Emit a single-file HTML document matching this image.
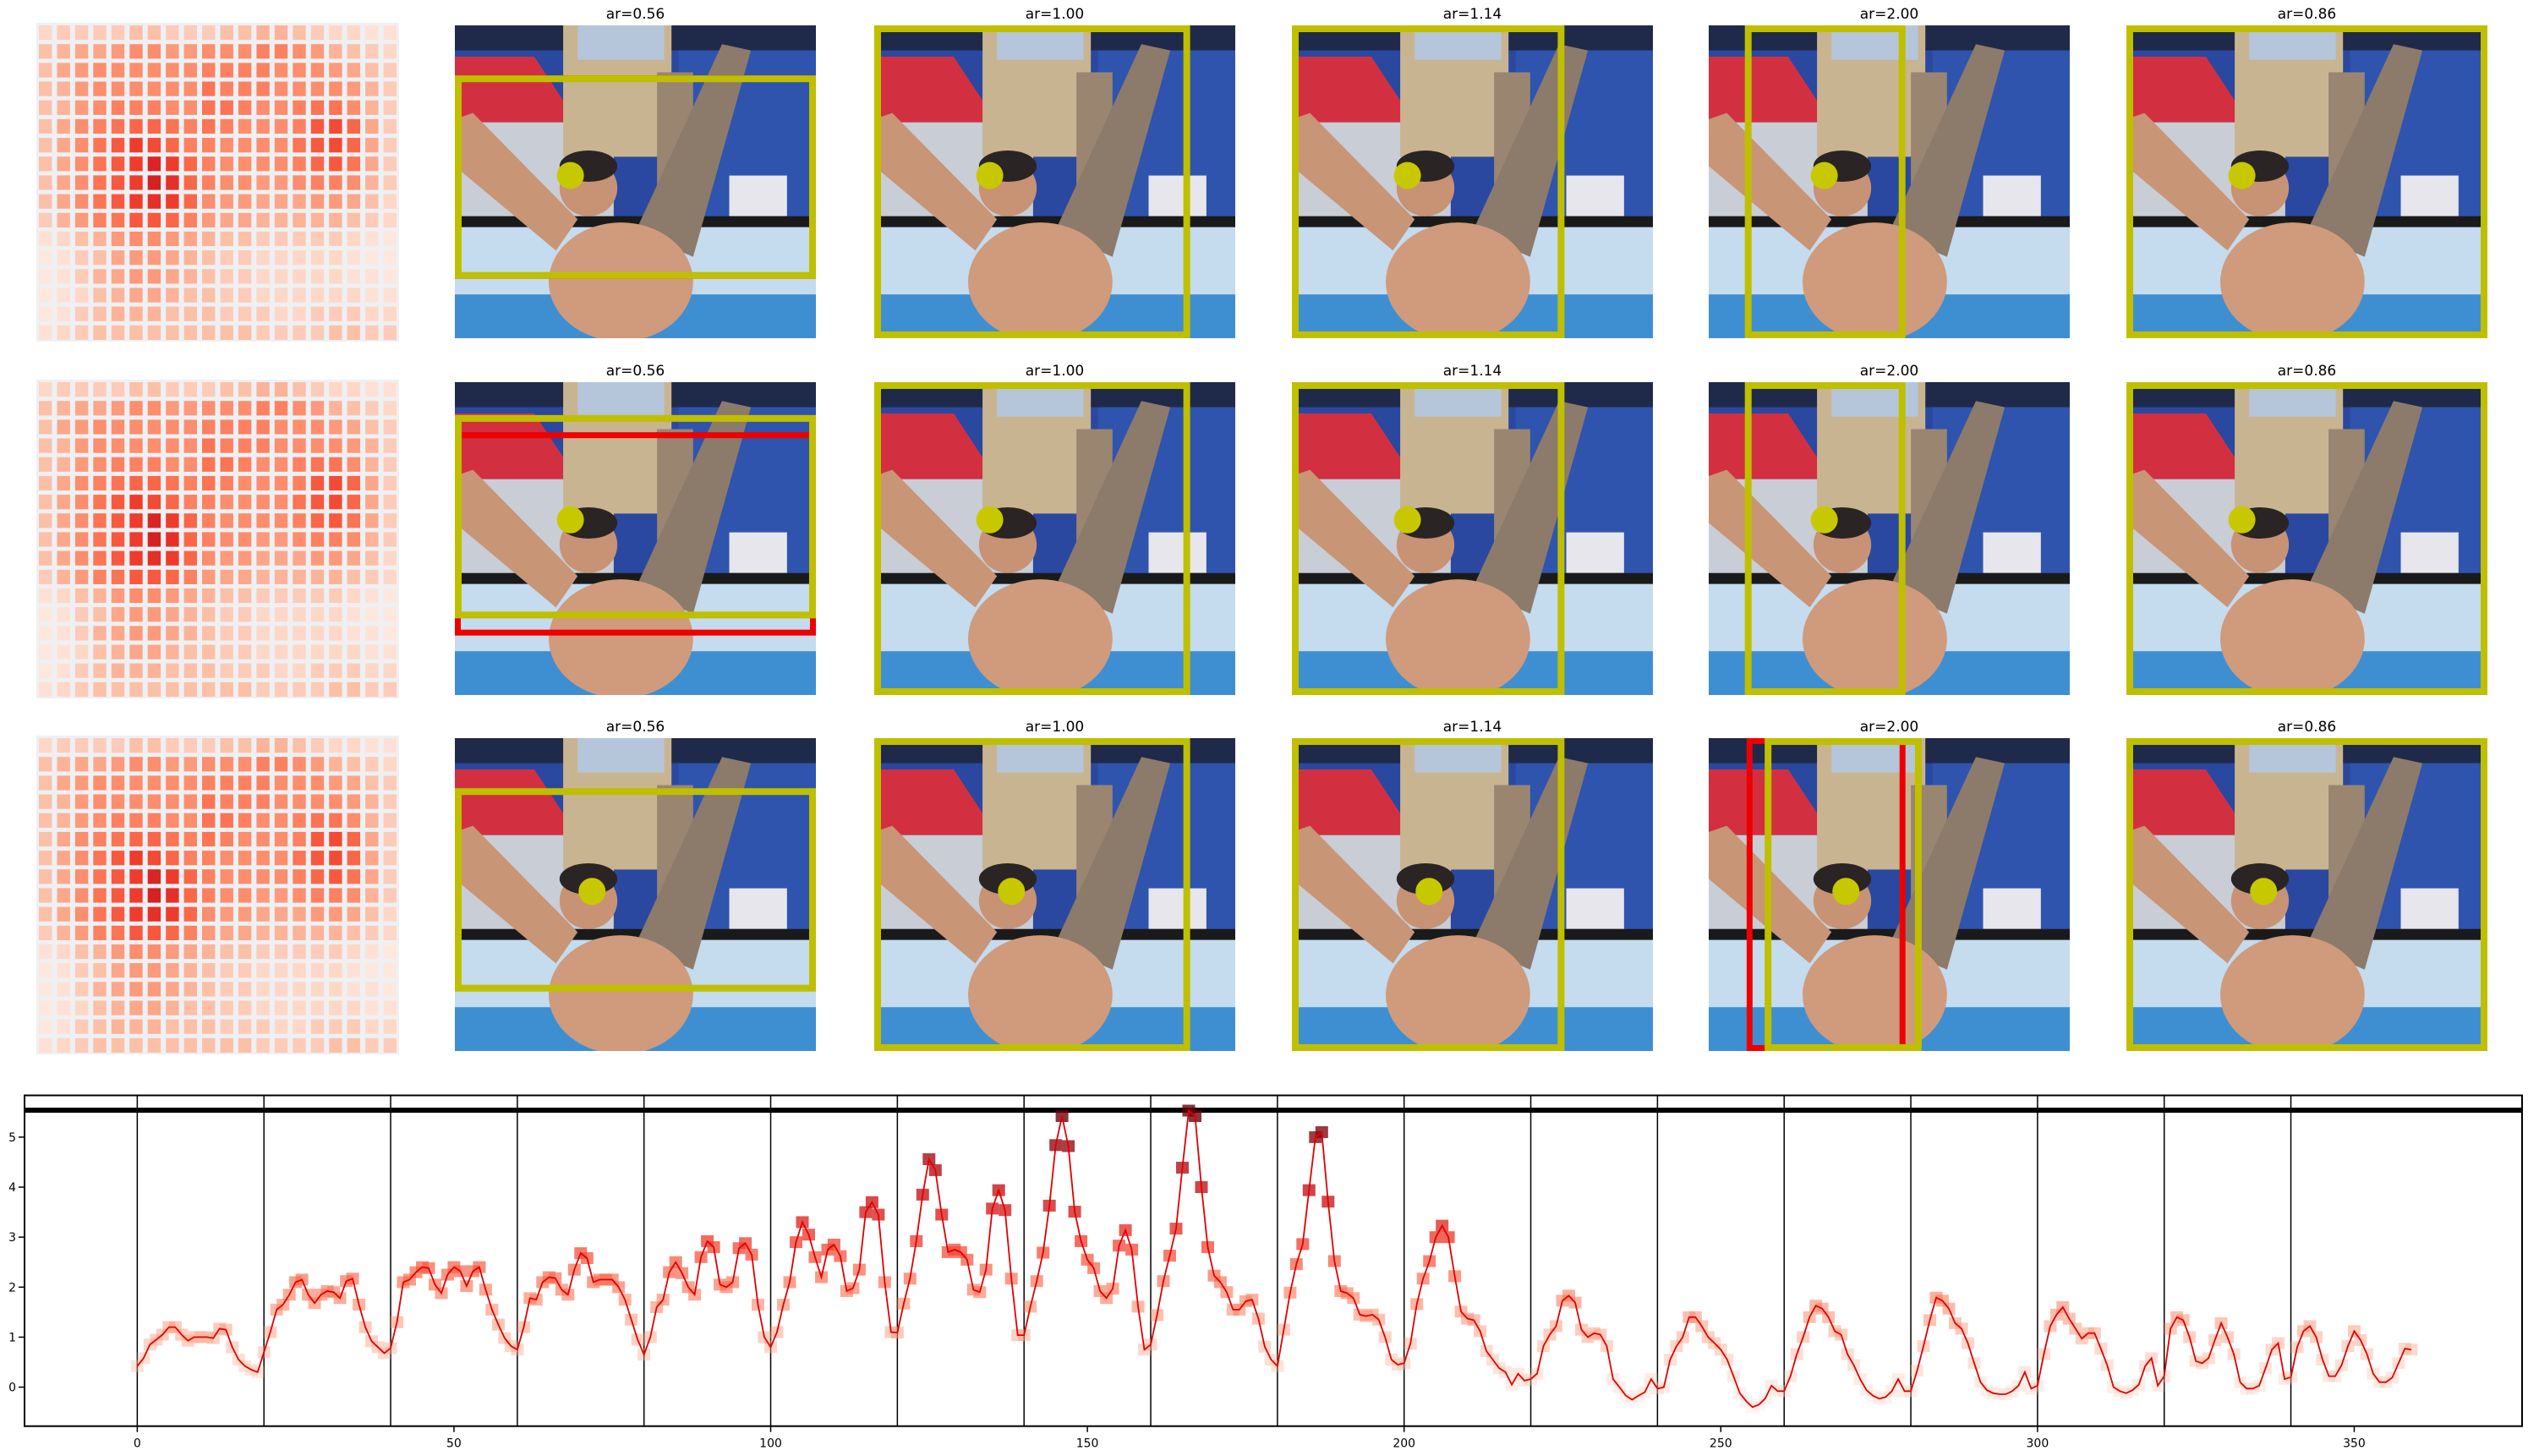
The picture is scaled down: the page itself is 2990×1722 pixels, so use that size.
<!DOCTYPE html>
<html><head><meta charset="utf-8"><title>Attention maps and aspect ratio boxes</title>
<style>
html,body{margin:0;padding:0;background:#fff;}
svg text{font-family:"DejaVu Sans","Liberation Sans",sans-serif;}
</style></head>
<body>
<svg id="fig" xmlns="http://www.w3.org/2000/svg" width="2990" height="1717" viewBox="0 0 2990 1717">
<defs>
<symbol id="scene" viewBox="0 0 100 100" preserveAspectRatio="none">
  <rect x="0" y="0" width="100" height="100" fill="#2a48a0"/>
  <rect x="0" y="0" width="100" height="8" fill="#1f2a4a"/>
  <rect x="62" y="8" width="38" height="56" fill="#2f54ad"/>
  <polygon points="0,10 22,10 30,24 42,28 42,33 0,33" fill="#d23040"/>
  <rect x="0" y="31" width="44" height="32" fill="#c8cdd6"/>
  <rect x="30" y="0" width="30" height="42" fill="#c9b491"/>
  <rect x="34" y="0" width="24" height="11" fill="#b5c6da"/>
  <rect x="56" y="15" width="10" height="45" fill="#9a8571"/>
  <rect x="76" y="48" width="16" height="13" fill="#e6e6ec"/>
  <rect x="0" y="61" width="100" height="3.5" fill="#1a1a1a"/>
  <rect x="0" y="64.5" width="100" height="23" fill="#c5dbee"/>
  <rect x="0" y="86" width="100" height="14" fill="#3e8fd2"/>
  <polygon points="0,30 5,28 34,62 28,72 0,45" fill="#c89577"/>
  <polygon points="50,66 74,6 82,8 66,74" fill="#8c7a6b"/>
  <ellipse cx="46" cy="82" rx="20" ry="19" fill="#cf9b7c"/>
  <ellipse cx="37" cy="52" rx="8" ry="9" fill="#c89275"/>
  <ellipse cx="37" cy="45" rx="8" ry="5" fill="#2a2424"/>
</symbol>
</defs>
<g id="topgrid"></g>
<g id="chart"></g>
</svg>
<script>
// ---------- heatmap data (intensity 0..1, 17 rows x 20 cols) ----------
const heatRows = [
[.2,.25,.25,.25,.25,.3,.3,.25,.25,.25,.3,.3,.35,.35,.3,.25,.2,.2,.15,.15],
[.3,.35,.4,.4,.45,.5,.5,.45,.45,.5,.5,.5,.55,.55,.5,.45,.35,.3,.25,.2],
[.3,.4,.45,.5,.5,.5,.5,.5,.5,.55,.55,.55,.55,.5,.5,.5,.45,.4,.3,.25],
[.3,.35,.45,.5,.5,.5,.5,.5,.5,.6,.55,.55,.55,.5,.5,.5,.5,.45,.35,.25],
[.3,.35,.45,.5,.55,.55,.55,.5,.5,.6,.6,.55,.5,.5,.55,.6,.6,.5,.35,.25],
[.3,.4,.5,.55,.6,.65,.65,.6,.55,.6,.55,.5,.5,.5,.55,.7,.75,.65,.4,.25],
[.3,.4,.5,.6,.7,.8,.75,.65,.55,.55,.5,.5,.5,.5,.6,.7,.75,.65,.4,.25],
[.3,.4,.5,.6,.7,.8,.9,.8,.65,.55,.5,.5,.5,.5,.55,.65,.7,.6,.4,.25],
[.3,.4,.5,.6,.7,.8,.92,.85,.65,.55,.5,.5,.45,.45,.5,.55,.55,.5,.35,.25],
[.3,.4,.5,.6,.7,.8,.85,.8,.65,.5,.45,.45,.4,.4,.4,.45,.45,.4,.3,.2],
[.25,.35,.45,.55,.6,.7,.7,.65,.55,.45,.4,.4,.35,.35,.35,.35,.35,.3,.25,.2],
[.15,.2,.3,.35,.45,.5,.5,.45,.4,.35,.3,.3,.25,.25,.25,.25,.25,.2,.15,.1],
[.1,.15,.25,.3,.4,.45,.45,.4,.35,.3,.25,.25,.2,.2,.2,.2,.2,.15,.1,.1],
[.1,.15,.25,.35,.4,.45,.45,.4,.35,.3,.25,.25,.2,.2,.2,.2,.2,.15,.15,.1],
[.1,.15,.2,.3,.35,.4,.4,.35,.3,.3,.25,.25,.2,.2,.2,.2,.2,.2,.15,.15],
[.1,.15,.25,.3,.35,.35,.35,.3,.3,.3,.25,.25,.25,.2,.2,.25,.25,.25,.2,.2],
[.15,.2,.25,.3,.3,.3,.3,.3,.3,.3,.3,.3,.25,.25,.25,.25,.3,.3,.25,.25]
];
const arLabels = ["ar=0.56","ar=1.00","ar=1.14","ar=2.00","ar=0.86"];

// ---------- line chart data ----------
const values = [
0.42,0.58,0.85,0.95,1.05,1.2,1.2,1.05,0.93,1.0,1.0,1.0,0.98,1.17,1.15,0.8,0.55,0.42,0.35,0.3,
0.7,1.1,1.55,1.65,1.85,2.1,2.15,1.85,1.68,1.85,1.92,1.9,1.78,2.12,2.17,1.65,1.2,0.92,0.8,0.68,
0.78,1.3,2.1,2.15,2.3,2.4,2.38,2.05,1.88,2.25,2.4,2.32,2.02,2.32,2.4,1.95,1.55,1.25,0.98,0.82,
0.75,1.2,1.78,1.75,2.1,2.2,2.18,1.95,1.85,2.35,2.68,2.58,2.1,2.15,2.15,2.15,2.0,1.75,1.35,0.95,
0.65,1.0,1.6,1.75,2.3,2.5,2.28,2.0,1.85,2.6,2.92,2.8,2.05,2.0,2.1,2.78,2.88,2.65,1.65,1.0,
0.8,1.1,1.65,2.1,2.9,3.3,3.05,2.6,2.2,2.75,2.85,2.62,1.92,1.98,2.35,3.5,3.7,3.45,2.1,1.1,
1.09,1.67,2.17,2.92,3.85,4.56,4.34,3.45,2.7,2.75,2.7,2.55,1.95,1.9,2.35,3.57,3.94,3.54,2.17,1.04,
1.04,1.61,2.12,2.69,3.63,4.84,5.42,4.82,3.51,2.92,2.55,2.38,1.92,1.78,1.97,2.83,3.14,2.75,1.61,0.75,
0.85,1.44,2.12,2.63,3.17,4.39,5.53,5.42,4.0,2.8,2.23,2.1,1.9,1.55,1.55,1.72,1.75,1.37,0.81,0.55,
0.42,1.15,1.89,2.46,2.86,3.94,5.0,5.1,3.71,2.52,1.92,1.88,1.78,1.45,1.42,1.45,1.35,1.0,0.55,0.45,
0.48,0.87,1.66,2.17,2.52,3.0,3.23,3.0,2.22,1.51,1.37,1.34,1.12,0.72,0.55,0.38,0.3,0.05,0.27,0.13,
0.16,0.27,0.82,1.05,1.22,1.73,1.83,1.69,1.15,1.0,1.08,1.05,0.82,0.16,0.0,-0.17,-0.25,-0.17,-0.1,0.16,
-0.03,0.0,0.55,0.82,1.0,1.4,1.4,1.22,1.0,0.88,0.75,0.55,0.22,-0.12,-0.28,-0.4,-0.35,-0.23,0.03,-0.08,
-0.08,0.22,0.66,1.0,1.4,1.63,1.57,1.4,1.12,1.05,0.66,0.44,0.16,-0.06,-0.17,-0.23,-0.2,-0.08,0.16,-0.08,
-0.08,0.33,0.82,1.34,1.79,1.73,1.57,1.28,1.17,0.88,0.48,0.1,-0.06,-0.12,-0.14,-0.14,-0.08,0.03,0.3,-0.03,
0.03,0.66,1.22,1.45,1.6,1.37,1.17,0.97,1.08,1.08,0.77,0.44,0.0,-0.08,-0.12,-0.06,0.05,0.42,0.58,0.03,
0.22,1.17,1.4,1.34,1.0,0.52,0.48,0.58,0.94,1.28,1.0,0.66,0.1,-0.03,-0.03,0.03,0.38,0.75,0.88,0.16,
0.2,0.8,1.12,1.22,1.0,0.55,0.22,0.22,0.44,0.82,1.12,0.94,0.66,0.27,0.1,0.1,0.19,0.48,0.77,0.75
];
const xTicks = [0,50,100,150,200,250,300,350];
const yTicks = [0,1,2,3,4,5];
const segmentLines = [0,20,40,60,80,100,120,140,160,180,200,220,240,260,280,300,320,340];
const thresholdValue = 5.54;

const NS = "http://www.w3.org/2000/svg";
function mk(tag, attrs, parent){const e=document.createElementNS(NS,tag);for(const k in attrs)e.setAttribute(k,attrs[k]);parent.appendChild(e);return e;}

const redsStops=[[0,[255,245,240]],[0.125,[254,224,210]],[0.25,[252,187,161]],[0.375,[252,146,114]],[0.5,[251,106,74]],[0.625,[239,59,44]],[0.75,[203,24,29]],[0.875,[165,15,21]],[1,[103,0,13]]];
function reds(t){t=Math.max(0,Math.min(1,t));for(let i=1;i<redsStops.length;i++){if(t<=redsStops[i][0]){const a=redsStops[i-1],b=redsStops[i];const f=(t-a[0])/(b[0]-a[0]);const c=a[1].map((v,j)=>Math.round(v+(b[1][j]-v)*f));return `rgb(${c[0]},${c[1]},${c[2]})`;}}return "rgb(103,0,13)";}

// ---------- top grid ----------
const topGroup=document.getElementById('topgrid');
const rowY=[30,452,873];
const panelX=[538,1034,1528,2021,2515];
const PW=427, PH=370;
const yel="#bfbf00", red="#ee0000";
const boxes=[
 [[[red,0,0.16,1,0.81],[yel,0,0.16,1,0.81]],[[yel,0,0,0.875,1]],[[yel,0,0,0.755,1]],[[yel,0.1,0,0.545,1]],[[yel,0,0,1,1]]],
 [[[red,0,0.16,1,0.81],[yel,0,0.105,1,0.755]],[[yel,0,0,0.875,1]],[[yel,0,0,0.755,1]],[[yel,0.1,0,0.545,1]],[[yel,0,0,1,1]]],
 [[[yel,0,0.16,1,0.81]],[[yel,0,0,0.875,1]],[[yel,0,0,0.755,1]],[[red,0.105,0,0.545,1],[yel,0.155,0,0.59,1]],[[yel,0,0,1,1]]]
];
const dots=[[0.32,0.48],[0.32,0.44],[0.38,0.49]];
rowY.forEach((ry,r)=>{
  const hg=mk('g',{},topGroup);
  
  
  const hx=43, hw=429, hy=ry-3, hh=377;
  mk('rect',{x:hx,y:hy,width:hw,height:hh,fill:'#eef0f3'},hg);
  const cw=hw/20, chh=hh/17;
  heatRows.forEach((row,i)=>row.forEach((v,j)=>{
    const c=mk('rect',{x:(hx+j*cw+3).toFixed(1),y:(hy+i*chh+3).toFixed(1),width:(cw-6).toFixed(1),height:(chh-5).toFixed(1),fill:reds(v*0.78)},hg);
    
    
  }));
  panelX.forEach((px,p)=>{
    const g=mk('g',{},topGroup);
    
    
    mk('use',{href:'#scene',x:px,y:ry,width:PW,height:PH},g);
    const t=mk('text',{x:px+PW/2,y:ry-8,'text-anchor':'middle','font-size':17,fill:'#000'},g);
    t.textContent=arLabels[p];
    
    
    const d=mk('circle',{cx:px+dots[r][0]*PW,cy:ry+dots[r][1]*PH,r:16,fill:'#c8c800'},g);
    
    
    boxes[r][p].forEach(b=>{
      const sw=b[0]===red?7:8;
      const bx=mk('rect',{x:px+b[1]*PW+sw/2,y:ry+b[2]*PH+sw/2,width:(b[3]-b[1])*PW-sw,height:(b[4]-b[2])*PH-sw,fill:'none',stroke:b[0],'stroke-width':sw},g);
      
      
    });
  });
});

// ---------- chart ----------
const chartG=document.getElementById('chart');
const L=29,R=2983,T=1295.5,B=1686.7;
const xmin=-17.8,xmax=376.5,ymin=-0.78,ymax=5.835;
const xs=v=>L+(v-xmin)*(R-L)/(xmax-xmin);
const ys=v=>B-(v-ymin)*(B-T)/(ymax-ymin);
segmentLines.forEach(s=>{
  const l=mk('line',{x1:xs(s),x2:xs(s),y1:T,y2:B,stroke:'#000','stroke-width':1.5},chartG);
  
  
});
const th=mk('line',{x1:L,x2:R,y1:ys(thresholdValue),y2:ys(thresholdValue),stroke:'#000','stroke-width':6},chartG);


const mg=mk('g',{},chartG);


values.forEach((v,i)=>{
  const t=Math.max(0,(v+0.4)/5.9);
  const m=mk('rect',{x:(xs(i)-7.5).toFixed(1),y:(ys(v)-7).toFixed(1),width:15,height:14,fill:reds(0.15+t*0.85),opacity:(0.25+0.55*Math.min(1,t*1.6)).toFixed(2)},mg);
  
  
});
const ln=mk('polyline',{points:values.map((v,i)=>xs(i).toFixed(1)+','+ys(v).toFixed(1)).join(' '),fill:'none',stroke:'#e00000','stroke-width':1.8},chartG);


const fr=mk('rect',{x:L,y:T,width:R-L,height:B-T,fill:'none',stroke:'#000','stroke-width':2},chartG);


xTicks.forEach(t=>{
  mk('line',{x1:xs(t),x2:xs(t),y1:B,y2:B+7,stroke:'#000','stroke-width':1.5},chartG);
  const tx=mk('text',{x:xs(t),y:B+25,'text-anchor':'middle','font-size':14},chartG);
  tx.textContent=t;
  
  
});
yTicks.forEach(t=>{
  mk('line',{x1:L-7,x2:L,y1:ys(t),y2:ys(t),stroke:'#000','stroke-width':1.5},chartG);
  const tx=mk('text',{x:L-10,y:ys(t)+5,'text-anchor':'end','font-size':14},chartG);
  tx.textContent=t;
  
  
});
</script>
</body></html>
